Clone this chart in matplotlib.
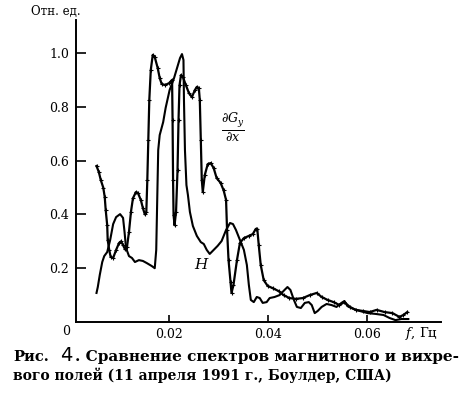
import matplotlib
matplotlib.use("Agg")
import matplotlib.pyplot as plt

plt.rcParams['font.family'] = ['DejaVu Serif']
plt.rcParams['mathtext.fontset'] = 'dejavuserif'

# dG_y/dx spectrum (marked curve)
dg_f = [0.00534, 0.0058, 0.0062, 0.0067, 0.0070, 0.0072, 0.0075, 0.0076, 0.0079, 0.0082,
        0.0087, 0.0093, 0.0099, 0.0103, 0.0107, 0.0111, 0.0115, 0.0119, 0.0123, 0.0127,
        0.0133, 0.0137, 0.0143, 0.0147, 0.0151, 0.0154, 0.0156, 0.0158, 0.0160, 0.0163,
        0.0167, 0.0171, 0.0177, 0.0181, 0.0185, 0.0192, 0.0200, 0.0206, 0.0207, 0.0208,
        0.0209, 0.0211, 0.0214, 0.0217, 0.0219, 0.0221, 0.0224, 0.0228, 0.0234, 0.0240,
        0.0246, 0.0252, 0.0256, 0.0260, 0.0262, 0.0264, 0.0266, 0.0268, 0.0272, 0.0278,
        0.0284, 0.0290, 0.0296, 0.0304, 0.0310, 0.0315, 0.0317, 0.0320, 0.0324, 0.0326,
        0.0330, 0.0337, 0.0343, 0.0351, 0.0361, 0.0369, 0.0375, 0.0378, 0.0381, 0.0385,
        0.0391, 0.0399, 0.0409, 0.0421, 0.0431, 0.0443, 0.0456, 0.0470, 0.0484, 0.0498,
        0.0508, 0.0520, 0.0532, 0.0544, 0.0554, 0.0565, 0.0577, 0.0591, 0.0605, 0.0619,
        0.0635, 0.0651, 0.0665, 0.0673, 0.0681]
dg_v = [0.58, 0.558, 0.528, 0.50, 0.465, 0.416, 0.36, 0.305, 0.268, 0.242,
        0.238, 0.268, 0.294, 0.30, 0.286, 0.27, 0.28, 0.335, 0.41, 0.46,
        0.483, 0.48, 0.453, 0.424, 0.40, 0.41, 0.528, 0.677, 0.825, 0.937,
        0.993, 0.985, 0.944, 0.907, 0.885, 0.881, 0.888, 0.90, 0.75, 0.528,
        0.398, 0.36, 0.41, 0.565, 0.75, 0.88, 0.918, 0.91, 0.88, 0.851,
        0.836, 0.862, 0.874, 0.87, 0.825, 0.677, 0.528, 0.483, 0.546, 0.587,
        0.591, 0.572, 0.535, 0.517, 0.49, 0.454, 0.342, 0.23, 0.149, 0.108,
        0.138, 0.23, 0.294, 0.312, 0.32, 0.327, 0.346, 0.346, 0.286, 0.212,
        0.156, 0.134, 0.126, 0.115, 0.10, 0.089, 0.086, 0.089, 0.10, 0.108,
        0.093, 0.082, 0.074, 0.063, 0.074, 0.056, 0.045, 0.041, 0.037, 0.045,
        0.037, 0.033, 0.019, 0.026, 0.037]

# H spectrum (plain curve)
h_f = [0.00534, 0.0056, 0.0060, 0.0065, 0.0069, 0.0075, 0.0081, 0.0087, 0.0093, 0.0101,
       0.0107, 0.0110, 0.0113, 0.0119, 0.0125, 0.0131, 0.0139, 0.0147, 0.0155, 0.0165,
       0.0171, 0.0174, 0.0176, 0.0178, 0.0181, 0.0188, 0.0193, 0.0201, 0.0210, 0.0216,
       0.0222, 0.0226, 0.0229, 0.0230, 0.0232, 0.0235, 0.0238, 0.0242, 0.0248, 0.0256,
       0.0264, 0.0270, 0.0276, 0.0282, 0.0290, 0.0298, 0.0306, 0.0315, 0.0323, 0.0329,
       0.0335, 0.0343, 0.0351, 0.0357, 0.0361, 0.0365, 0.0371, 0.0377, 0.0383, 0.0389,
       0.0397, 0.0403, 0.0413, 0.0423, 0.0433, 0.0439, 0.0445, 0.0452, 0.0458, 0.0466,
       0.0474, 0.0482, 0.0488, 0.0494, 0.0500, 0.0508, 0.0518, 0.0528, 0.0538, 0.0548,
       0.0554, 0.0560, 0.0573, 0.0585, 0.0601, 0.0617, 0.0633, 0.0645, 0.0657, 0.0669,
       0.0683]
h_v = [0.108, 0.13, 0.175, 0.223, 0.245, 0.26, 0.305, 0.364, 0.39, 0.401,
       0.387, 0.335, 0.275, 0.245, 0.238, 0.223, 0.23, 0.227, 0.219, 0.208,
       0.20, 0.268, 0.454, 0.639, 0.695, 0.743, 0.796, 0.862, 0.907, 0.944,
       0.981, 0.996, 0.974, 0.825, 0.639, 0.509, 0.472, 0.409, 0.357, 0.32,
       0.297, 0.29, 0.268, 0.253, 0.268, 0.283, 0.301, 0.342, 0.368, 0.364,
       0.342, 0.305, 0.268, 0.212, 0.138, 0.082, 0.074, 0.093, 0.089, 0.071,
       0.074, 0.089, 0.093, 0.10, 0.119, 0.13, 0.119, 0.082, 0.056, 0.052,
       0.071, 0.074, 0.063, 0.033, 0.041, 0.056, 0.067, 0.063, 0.056, 0.071,
       0.078, 0.059, 0.048, 0.041, 0.033, 0.03, 0.026, 0.015, 0.007, 0.011,
       0.011]

x_ticks = [0.02, 0.04, 0.06]
x_labels = ['0.02', '0.04', '0.06']
y_ticks = [0.2, 0.4, 0.6, 0.8, 1.0]
y_labels = ['0.2', '0.4', '0.6', '0.8', '1.0']

W, H = 471, 393
fig = plt.figure(figsize=(W / 100, H / 100), dpi=100)
ax = fig.add_axes([76 / W, 71 / H, 365 / W, 302 / H])

ax.plot(h_f, h_v, color='black', lw=1.5)
ax.plot(dg_f, dg_v, color='black', lw=1.6, marker='+', ms=3.5, mew=0.8)

ax.set_xlim(0.0012, 0.0749)
ax.set_ylim(0, 1.1227)
for s in ['top', 'right']:
    ax.spines[s].set_visible(False)
for s in ['left', 'bottom']:
    ax.spines[s].set_linewidth(1.4)

ax.set_xticks(x_ticks)
ax.set_xticklabels(x_labels)
ax.set_yticks(y_ticks)
ax.set_yticklabels(y_labels)
ax.tick_params(axis='both', direction='in', width=1.2, labelsize=9)
ax.tick_params(axis='y', length=7, pad=5)
ax.tick_params(axis='x', length=5, pad=4)

# origin label and axis labels
ax.text(-0.0007, -0.012, '0', transform=ax.transData, ha='center', va='top',
        fontsize=9, clip_on=False)
ax.text(0.0676, -0.012, r'$f$, Гц', ha='left', va='top', fontsize=9.5, clip_on=False)
fig.text(56 / W, 1 - 11 / H, 'Отн. ед.', ha='center', va='center', fontsize=8.5)

# curve labels
ax.text(0.0328, 0.72, r'$\frac{\partial G_y}{\partial x}$', ha='center', va='center',
        fontsize=13)
ax.text(0.0266, 0.212, r'$H$', ha='center', va='center', fontsize=11)

# caption
fig.text(13 / W, 1 - 361 / H, 'Рис.', ha='left', va='baseline', fontsize=10.5,
         fontweight='bold')
fig.text(60 / W, 1 - 361 / H, '4', ha='left', va='baseline', fontsize=14,
         family='DejaVu Sans')
fig.text(75 / W, 1 - 361 / H, '. Сравнение спектров магнитного и вихре-', ha='left',
         va='baseline', fontsize=11, fontweight='bold')
fig.text(13 / W, 1 - 380 / H, 'вого полей (11 апреля 1991 г., Боулдер, США)', ha='left',
         va='baseline', fontsize=10, fontweight='bold')

fig.savefig('out.png', dpi=100)
